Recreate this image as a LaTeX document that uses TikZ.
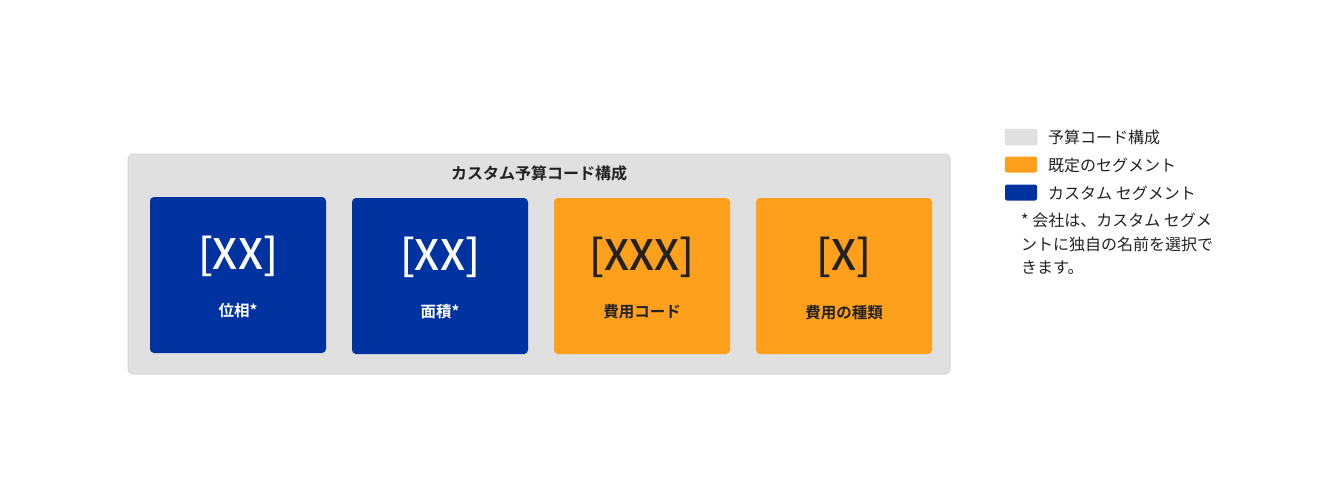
\documentclass[tikz,border=0pt]{standalone}
\usepackage{fontspec}
\setmainfont{Noto Sans CJK JP}
\newfontfamily\jpbold{Noto Sans CJK JP Bold}
\newfontfamily\jpmed{Noto Sans CJK JP Medium}
\definecolor{panelgray}{HTML}{E0E0E0}
\definecolor{panelline}{HTML}{D4D4D4}
\definecolor{segblue}{HTML}{0033A0}
\definecolor{segorange}{HTML}{FFA01C}
\definecolor{inktext}{HTML}{222222}
\tikzset{
  seg/.style={rounded corners=4pt, minimum width=176pt, minimum height=156pt, inner sep=0pt, draw=none},
  bluebox/.style={seg, fill=segblue},
  orangebox/.style={seg, fill=segorange},
  bigcode/.style={font=\jpmed\fontsize{42}{44}\selectfont, inner sep=0pt, anchor=center},
  seglabel/.style={font=\jpbold\fontsize{15.5}{18}\selectfont, inner sep=0pt, anchor=center},
  swatch/.style={rounded corners=2pt, minimum width=32pt, minimum height=16pt, inner sep=0pt},
  legtext/.style={font=\fontsize{16}{20}\selectfont, text=inktext, anchor=west, inner sep=0pt},
}
\begin{document}
\begin{tikzpicture}[x=1pt,y=-1pt]
\useasboundingbox (0,0) rectangle (1338,503);
% outer panel
\node[draw=panelline, fill=panelgray, line width=1pt, rounded corners=5pt, minimum width=822pt, minimum height=220pt, inner sep=0pt] (panel) at (539,264) {};
\node[font=\jpbold\fontsize{16}{18}\selectfont, text=inktext, inner sep=0pt] (title) at (539,173) {カスタム予算コード構成};
% segments
\node[bluebox] (s1) at (238,275) {};
\node[bluebox] (s2) at (440,276) {};
\node[orangebox] (s3) at (642,276) {};
\node[orangebox] (s4) at (844,276) {};
\node[bigcode, text=white] (c1) at (238,256) {[XX]};
\node[bigcode, text=white] (c2) at (440,257) {[XX]};
\node[bigcode, text=inktext] (c3) at (642,257) {[XXX]};
\node[bigcode, text=inktext] (c4) at (844,257) {[X]};
\node[seglabel, text=white] (l1) at (238,311) {位相*};
\node[seglabel, text=white] (l2) at (440,312) {面積*};
\node[seglabel, text=inktext] (l3) at (642,312) {費用コード};
\node[seglabel, text=inktext] (l4) at (844,313) {費用の種類};
% legend
\node[swatch, fill=panelgray, draw=panelline] (k1) at (1021,137) {};
\node[swatch, fill=segorange] (k2) at (1021,164.5) {};
\node[swatch, fill=segblue] (k3) at (1021,192.5) {};
\node[legtext] (t1) at (1048,137) {予算コード構成};
\node[legtext] (t2) at (1048,165) {既定のセグメント};
\node[legtext] (t3) at (1048,193) {カスタム セグメント};
\node[legtext] (n1) at (1021,220) {* 会社は、カスタム セグメ};
\node[legtext] (n2) at (1021,244) {ントに独自の名前を選択で};
\node[legtext] (n3) at (1021,268) {きます。};
\end{tikzpicture}
\end{document}
